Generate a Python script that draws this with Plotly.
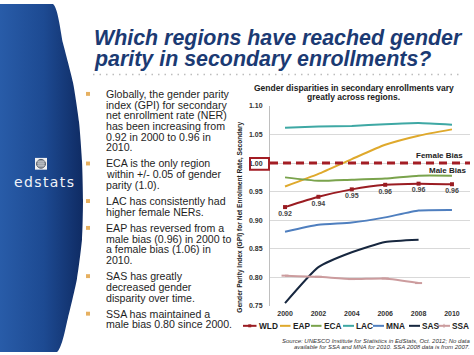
import plotly.graph_objects as go

W, H = 474, 355

# ---------------- data ----------------
years = [2000, 2002, 2004, 2006, 2008, 2010]
regions = ["WLD", "EAP", "ECA", "LAC", "MNA", "SAS", "SSA"]
WLD = [0.923, 0.941, 0.954, 0.962, 0.964, 0.963]
EAP = [0.959, 0.981, 1.007, 1.032, 1.048, 1.059]
ECA = [0.975, 0.969, 0.971, 0.973, 0.978, 0.978]
LAC = [1.062, 1.064, 1.065, 1.068, 1.070, 1.067]
MNA = [0.880, 0.892, 0.896, 0.905, 0.917, 0.918]
SAS = [0.755, 0.818, 0.844, 0.862, 0.866, None]
SSA = [0.803, 0.801, 0.797, 0.798, 0.790, None]
series = {"WLD": WLD, "EAP": EAP, "ECA": ECA, "LAC": LAC, "MNA": MNA, "SAS": SAS, "SSA": SSA}
parity = 1.00
y_ticks = [0.75, 0.80, 0.85, 0.90, 0.95, 1.00, 1.05, 1.10]

title_lines = ["Which regions have reached gender", "parity in secondary enrollments?"]
chart_title = ["Gender disparities in secondary enrollments vary", "greatly across regions."]
y_title = "Gender Parity Index (GPI) for Net Enrolment Rate, Secondary"
source_lines = ["Source: UNESCO Institute for Statistics in EdStats, Oct. 2012; No data",
                "available for SSA and MNA for 2010. SSA 2008 data is from 2007."]
bullets = [
    ["Globally, the gender parity", "index (GPI) for secondary", "net enrollment rate (NER)",
     "has been increasing from", "0.92 in 2000 to 0.96 in", "2010."],
    ["ECA is the only region", "within +/- 0.05 of gender", "parity (1.0)."],
    ["LAC has consistently had", "higher female NERs."],
    ["EAP has reversed from a", "male bias (0.96) in 2000 to", "a female bias (1.06) in", "2010."],
    ["SAS has greatly", "decreased gender", "disparity over time."],
    ["SSA has maintained a", "male bias 0.80 since 2000."],
]

# ---------------- styles ----------------
colors = {"WLD": "#9a1c22", "EAP": "#dfa92c", "ECA": "#7aa34c", "LAC": "#3ea8a4",
          "MNA": "#4f7fbf", "SAS": "#17273f", "SSA": "#cc9c9e"}
FONT = "Liberation Sans, Arial, sans-serif"
NAVY = "#1b3a73"
DARKRED = "#a31d24"

# plot area in pixels
PL, PR, PT, PB = 270, 470, 104, 308

fig = go.Figure()

# left decorative panel (pixel overlay axes x2/y2)
edge = [(53, 0), (63, 40), (73, 80), (79, 120), (82, 160), (83, 200), (82, 240),
        (77, 280), (68, 320), (57, 355)]
px = [0] + [p[0] for p in edge] + [0, 0]
py = [0] + [p[1] for p in edge] + [355, 0]
fig.add_trace(go.Scatter(x=px, y=py, xaxis="x2", yaxis="y2", mode="lines",
                         line=dict(width=0, shape="spline", smoothing=0.6), fill="toself",
                         fillgradient=dict(type="horizontal",
                                           colorscale=[[0, "#2c62b0"], [0.6, "#1d4a92"], [1, "#0f2b63"]]),
                         hoverinfo="skip", showlegend=False))

# data series
for name in regions:
    vals = series[name]
    kw = dict(x=years, y=vals, name=name, showlegend=False,
              line=dict(color=colors[name], width=2, shape="spline", smoothing=0.5),
              connectgaps=False, hoverinfo="skip")
    if name == "WLD":
        fig.add_trace(go.Scatter(mode="lines+markers+text", marker=dict(symbol="square", size=4, color=colors[name]),
                                 texttemplate="%{y:.2f}", textposition="bottom center",
                                 textfont=dict(family=FONT, size=7, color="#444", weight="bold"), **kw))
    elif name == "SSA":
        fig.add_trace(go.Scatter(mode="lines+markers", marker=dict(symbol="line-ew", size=5,
                                 line=dict(color=colors[name], width=2)), **kw))
    else:
        fig.add_trace(go.Scatter(mode="lines", **kw))

shapes = []
annotations = []

def pxa(x, y, text, size, color="#222", xanchor="left", yanchor="middle", textangle=0, family=FONT):
    annotations.append(dict(x=x, y=y, xref="x2", yref="y2", text=text, showarrow=False,
                            xanchor=xanchor, yanchor=yanchor, textangle=textangle,
                            font=dict(family=family, size=size, color=color)))

# parity line
shapes.append(dict(type="line", xref="x domain", yref="y", x0=0, x1=1, y0=parity, y1=parity,
                   line=dict(color=DARKRED, width=3, dash="8px,5px"), layer="above"))
# box around 1.00 label
shapes.append(dict(type="rect", xref="x2", yref="y2", x0=250, x1=269, y0=157, y1=169,
                   line=dict(color=DARKRED, width=2)))
pxa(465, 155, "<b>Female Bias</b>", 8, xanchor="right")
pxa(467.5, 169.5, "<b>Male Bias</b>", 8, xanchor="right")

# titles
pxa(92, 34.8, "<b><i>" + title_lines[0] + "</i></b>", 21.4, color=NAVY)
pxa(92, 56.3, "<b><i>" + title_lines[1] + "</i></b>", 21.4, color=NAVY)
shapes.append(dict(type="line", xref="x2", yref="y2", x0=93, x1=460, y0=72, y1=72,
                   line=dict(color="#bdbdbd", width=1.5, dash="1.5px,5px")))
pxa(353.5, 85.7, "<b>" + chart_title[0] + "</b>", 8.5, xanchor="center")
pxa(353.5, 95.2, "<b>" + chart_title[1] + "</b>", 8.5, xanchor="center")
pxa(240, 218, "<b>" + y_title + "</b>", 6.6, xanchor="center", textangle=-90)
pxa(471.5, 343.3, "<i>" + source_lines[0] + "</i>", 6, color="#333", xanchor="right")
pxa(471.5, 349.5, "<i>" + source_lines[1] + "</i>", 6, color="#333", xanchor="right")

# bullets
y = 91.7
for blk in bullets:
    shapes.append(dict(type="rect", xref="x2", yref="y2", x0=86, x1=90, y0=y - 2, y1=y + 2,
                       fillcolor="#e6b060", line=dict(width=0)))
    for ln in blk:
        pxa(103.5, y, ln, 10.6, color="#1e1e1e")
        y += 10.9
    y += 5.6

# logo
shapes.append(dict(type="rect", xref="x2", yref="y2", x0=35, x1=47, y0=157, y1=169,
                   fillcolor="#f2f2f2", line=dict(width=0)))
shapes.append(dict(type="circle", xref="x2", yref="y2", x0=36.5, x1=45.5, y0=158.5, y1=167.5,
                   fillcolor="#7d8590", line=dict(color="#3b4250", width=0.8)))
for yy in (161, 163, 165):
    shapes.append(dict(type="line", xref="x2", yref="y2", x0=37, x1=45, y0=yy, y1=yy,
                       line=dict(color="#e8e8e8", width=0.5)))
for xx in (39, 41, 43):
    shapes.append(dict(type="line", xref="x2", yref="y2", x0=xx, x1=xx, y0=159, y1=167,
                       line=dict(color="#e8e8e8", width=0.5)))
pxa(44, 182, "e\u200ad\u200as\u200at\u200aa\u200at\u200as", 14, color="#f0f3f8", xanchor="center",
    family="DejaVu Sans, sans-serif")

# manual legend
leg_x = [243, 280, 311, 343, 373, 409, 438]
leg_len = [13.5, 10.5, 10.5, 11, 11, 11, 12]
for name, lx, ll in zip(regions, leg_x, leg_len):
    shapes.append(dict(type="line", xref="x2", yref="y2", x0=lx, x1=lx + ll, y0=328.3, y1=328.3,
                       line=dict(color=colors[name], width=2)))
    if name == "WLD":
        shapes.append(dict(type="rect", xref="x2", yref="y2", x0=lx + ll / 2 - 1.5, x1=lx + ll / 2 + 1.5,
                           y0=326.8, y1=329.8, fillcolor=colors[name], line=dict(width=0)))
    if name == "SSA":
        shapes.append(dict(type="line", xref="x2", yref="y2", x0=lx + ll / 2, x1=lx + ll / 2,
                           y0=326.3, y1=330.3, line=dict(color=colors[name], width=1)))
    pxa(lx + ll, 328.3, "<b>" + name + "</b>", 8.3, color="#1e1e1e")

fig.update_layout(
    width=W, height=H, margin=dict(l=0, r=0, t=0, b=0),
    paper_bgcolor="white", plot_bgcolor="rgba(0,0,0,0)",
    showlegend=False, shapes=shapes, annotations=annotations,
    xaxis=dict(domain=[PL / W, PR / W], range=[1999.1, 2011.08], tickvals=years,
               showgrid=False, zeroline=False, showline=False, ticks="",
               tickfont=dict(family=FONT, size=7, color="#333", weight="bold"),
               ticklabelstandoff=2, fixedrange=True, anchor="y"),
    yaxis=dict(domain=[(H - PB) / H, (H - PT) / H], range=[0.75, 1.10], tickvals=y_ticks,
               tickformat=".2f", showgrid=True, gridcolor="#d9d9d9", gridwidth=1, zeroline=False,
               showline=True, linecolor="#bfbfbf", linewidth=1, ticks="",
               tickfont=dict(family=FONT, size=7, color="#333", weight="bold"),
               ticklabelstandoff=5, fixedrange=True, anchor="x"),
    xaxis2=dict(domain=[0, 1], range=[0, W], visible=False, fixedrange=True, anchor="y2"),
    yaxis2=dict(domain=[0, 1], range=[H, 0], visible=False, fixedrange=True, anchor="x2"),
)

fig.write_html("out.html", config={"displayModeBar": False},
               post_script="document.body.style.margin='0';document.body.style.overflow='hidden';")
